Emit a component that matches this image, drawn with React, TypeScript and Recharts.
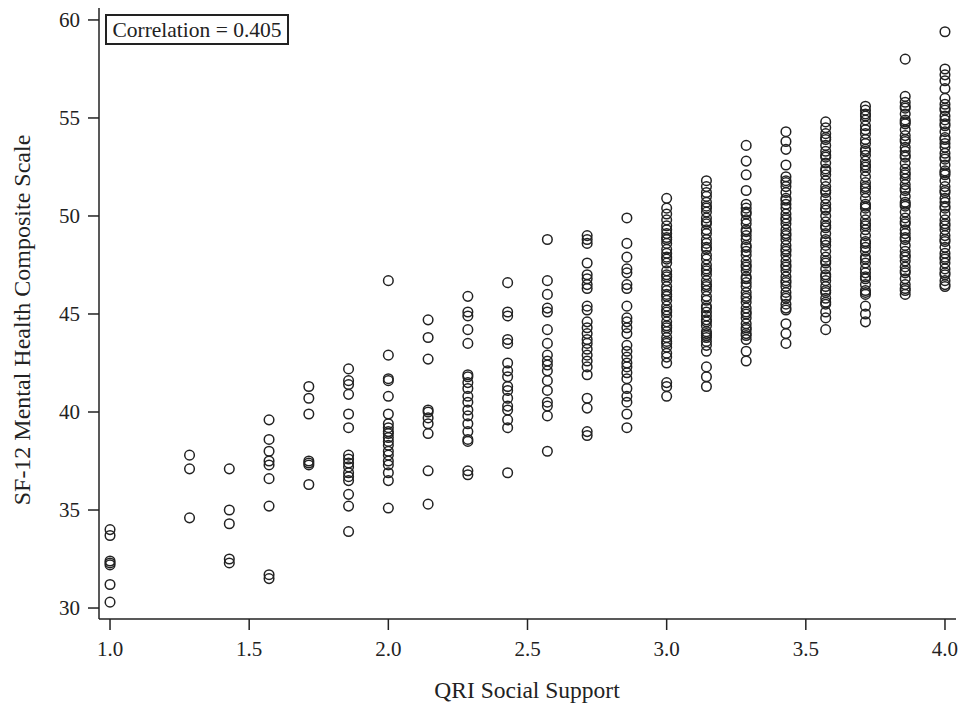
import React from "react";
import { ScatterChart, Scatter, XAxis, YAxis } from "recharts";

const xLevels = [1.0, 1.2857, 1.4286, 1.5714, 1.7143, 1.8571, 2.0, 2.1429, 2.2857, 2.4286, 2.5714, 2.7143, 2.8571, 3.0, 3.1429, 3.2857, 3.4286, 3.5714, 3.7143, 3.8571, 4.0];

const c100 = [34.0, 33.7, 32.4, 32.3, 32.2, 31.2, 30.3];
const c129 = [37.8, 37.1, 34.6];
const c143 = [37.1, 35.0, 34.3, 32.5, 32.3];
const c157 = [39.6, 38.6, 38.0, 37.5, 37.3, 36.6, 35.2, 31.7, 31.5];
const c171 = [41.3, 40.7, 39.9, 37.5, 37.4, 37.3, 36.3];
const c186 = [42.2, 41.6, 41.4, 40.9, 39.9, 39.2, 37.8, 37.6, 37.4, 37.2, 36.9, 36.7, 36.5, 35.8, 35.2, 33.9];
const c200 = [46.7, 42.9, 41.7, 41.6, 40.8, 39.9, 39.4, 39.2, 39.0, 38.9, 38.7, 38.5, 38.3, 38.0, 37.8, 37.5, 37.3, 36.9, 36.5, 35.1];
const c214 = [44.7, 43.8, 42.7, 40.1, 40.0, 39.7, 39.4, 38.9, 37.0, 35.3];
const c229 = [45.9, 45.1, 44.9, 44.2, 43.5, 41.9, 41.8, 41.5, 41.2, 40.8, 40.5, 40.1, 39.8, 39.4, 39.0, 38.6, 38.5, 37.0, 36.8];
const c243 = [46.6, 45.1, 44.9, 43.7, 43.5, 42.5, 42.1, 41.8, 41.3, 41.1, 40.7, 40.3, 40.1, 39.6, 39.2, 36.9];
const c257 = [48.8, 46.7, 46.0, 45.3, 45.1, 44.2, 43.5, 42.9, 42.6, 42.4, 42.1, 41.6, 41.1, 40.5, 40.3, 39.8, 38.0];
const c271 = [49.0, 48.8, 48.6, 47.6, 47.0, 46.8, 46.5, 46.3, 45.4, 45.2, 44.6, 44.3, 44.0, 43.7, 43.5, 43.2, 42.9, 42.6, 42.3, 41.9, 40.7, 40.2, 39.0, 38.8];
const c286 = [49.9, 48.6, 47.9, 47.3, 47.1, 46.5, 46.3, 45.4, 44.8, 44.6, 44.3, 44.0, 43.4, 43.1, 42.8, 42.5, 42.3, 42.0, 41.7, 41.2, 40.8, 40.5, 39.9, 39.2];
const c300 = [50.9, 50.4, 50.1, 49.8, 49.5, 49.3, 49.1, 48.9, 48.8, 48.6, 48.3, 48.1, 47.9, 47.8, 47.6, 47.2, 47.0, 46.9, 46.7, 46.4, 46.2, 46.0, 45.9, 45.7, 45.4, 45.2, 45.1, 44.9, 44.6, 44.4, 44.3, 44.1, 43.8, 43.6, 43.5, 43.3, 43.0, 42.8, 42.5, 41.5, 41.3, 40.8];
const c314 = [51.8, 51.5, 51.2, 51.0, 50.7, 50.5, 50.4, 50.2, 49.9, 49.7, 49.6, 49.3, 49.1, 48.8, 48.6, 48.4, 48.3, 48.0, 47.8, 47.5, 47.3, 47.2, 47.0, 46.7, 46.5, 46.4, 46.2, 45.9, 45.7, 45.4, 45.3, 45.1, 44.9, 44.7, 44.6, 44.4, 44.1, 44.0, 43.9, 43.8, 43.6, 43.4, 43.1, 42.3, 41.8, 41.3];
const c329 = [53.6, 52.8, 52.1, 51.3, 50.6, 50.4, 50.2, 50.1, 49.8, 49.6, 49.3, 49.2, 49.0, 48.8, 48.5, 48.4, 48.2, 48.0, 47.7, 47.5, 47.4, 47.2, 46.9, 46.8, 46.6, 46.4, 46.1, 45.9, 45.8, 45.6, 45.3, 45.1, 45.0, 44.8, 44.5, 44.3, 44.2, 44.0, 43.9, 43.7, 43.1, 42.6];
const c343 = [54.3, 53.8, 53.4, 52.6, 52.0, 51.8, 51.7, 51.5, 51.2, 50.9, 50.8, 50.6, 50.4, 50.1, 49.9, 49.8, 49.6, 49.3, 49.1, 49.0, 48.8, 48.5, 48.3, 48.2, 48.0, 47.7, 47.5, 47.4, 47.2, 46.9, 46.7, 46.6, 46.4, 46.1, 45.9, 45.8, 45.5, 45.3, 45.2, 44.5, 44.0, 43.5];
const c357 = [54.8, 54.5, 54.2, 54.0, 53.9, 53.6, 53.3, 53.1, 53.0, 52.7, 52.4, 52.3, 52.1, 51.8, 51.5, 51.3, 51.2, 50.9, 50.6, 50.4, 50.3, 50.0, 49.7, 49.5, 49.4, 49.1, 48.8, 48.7, 48.5, 48.2, 47.9, 47.7, 47.6, 47.3, 47.0, 46.9, 46.7, 46.4, 46.2, 46.1, 45.8, 45.6, 45.5, 45.1, 44.8, 44.2];
const c371 = [55.6, 55.4, 55.2, 55.1, 54.9, 54.6, 54.4, 54.2, 53.9, 53.7, 53.4, 53.3, 53.1, 52.8, 52.6, 52.5, 52.3, 52.0, 51.7, 51.5, 51.4, 51.2, 50.9, 50.6, 50.5, 50.4, 50.1, 49.8, 49.6, 49.5, 49.3, 49.0, 48.7, 48.6, 48.4, 48.2, 47.9, 47.8, 47.6, 47.3, 47.1, 46.9, 46.8, 46.5, 46.2, 46.1, 46.0, 45.4, 45.0, 44.6];
const c386 = [58.0, 56.1, 55.8, 55.6, 55.5, 55.2, 54.9, 54.8, 54.7, 54.4, 54.1, 53.9, 53.8, 53.5, 53.3, 53.1, 53.0, 52.7, 52.4, 52.2, 52.1, 51.9, 51.6, 51.4, 51.3, 51.0, 50.7, 50.6, 50.5, 50.2, 49.9, 49.7, 49.6, 49.3, 49.1, 48.9, 48.8, 48.5, 48.2, 48.0, 47.9, 47.7, 47.4, 47.2, 47.1, 46.8, 46.5, 46.3, 46.2, 46.0];
const c400 = [59.4, 57.5, 57.2, 56.9, 56.5, 56.0, 55.7, 55.5, 55.4, 55.1, 54.9, 54.7, 54.6, 54.3, 54.0, 53.9, 53.7, 53.5, 53.2, 53.0, 52.9, 52.6, 52.3, 52.2, 52.1, 51.8, 51.5, 51.3, 51.2, 50.9, 50.7, 50.5, 50.4, 50.1, 49.8, 49.6, 49.5, 49.3, 49.0, 48.8, 48.7, 48.4, 48.1, 47.9, 47.8, 47.6, 47.3, 47.1, 47.0, 46.7, 46.5, 46.4];

const columns = [c100, c129, c143, c157, c171, c186, c200, c214, c229, c243, c257, c271, c286, c300, c314, c329, c343, c357, c371, c386, c400];

const xTicks = [1.0, 1.5, 2.0, 2.5, 3.0, 3.5, 4.0];
const yTicks = [30, 35, 40, 45, 50, 55, 60];

const xTitle = "QRI Social Support";
const yTitle = "SF-12 Mental Health Composite Scale";
const corrLabel = "Correlation = 0.405";

const points = columns.flatMap((col, i) => col.map((v) => ({ x: xLevels[i], y: v })));

const FONT = "'Liberation Serif', 'Times New Roman', serif";
const INK = "#222";

const Ring = (props: any) => {
  const { cx, cy } = props;
  if (cx == null || cy == null) return null;
  return <circle cx={cx} cy={cy} r={4.8} fill="none" stroke={INK} strokeWidth={1.5} />;
};

const X_DOMAIN: [number, number] = [0.9604, 4.0396];
const Y_DOMAIN: [number, number] = [29.44, 60.61];

export default function App() {
  const tickStyle = { fontFamily: FONT, fontSize: 21, fill: INK };
  return (
    <div style={{ position: "absolute", left: 0, top: 0, width: 964, height: 706, background: "#fff" }}>
      <ScatterChart width={964} height={706} margin={{ top: 8, right: 8, bottom: 0, left: 0 }}>
        <XAxis
          xAxisId="b"
          type="number"
          dataKey="x"
          domain={X_DOMAIN}
          ticks={xTicks}
          allowDataOverflow
          tickFormatter={(v: number) => v.toFixed(1)}
          height={87}
          tickSize={11}
          tickMargin={11}
          tick={tickStyle}
          stroke={INK}
          strokeWidth={1.5}
          interval={0}
        />
        <XAxis xAxisId="t" orientation="top" type="number" domain={X_DOMAIN} allowDataOverflow height={0} tick={false} tickLine={false} stroke={INK} strokeWidth={1.5} />
        <YAxis
          yAxisId="l"
          type="number"
          dataKey="y"
          domain={Y_DOMAIN}
          ticks={yTicks}
          allowDataOverflow
          width={99}
          tickSize={11}
          tickMargin={8}
          tick={tickStyle}
          stroke={INK}
          strokeWidth={1.5}
          interval={0}
        />
        <YAxis yAxisId="r" orientation="right" type="number" domain={Y_DOMAIN} allowDataOverflow width={0} tick={false} tickLine={false} stroke={INK} strokeWidth={1.5} />
        <Scatter xAxisId="b" yAxisId="l" data={points} shape={Ring} isAnimationActive={false} />
      </ScatterChart>
      <svg width={964} height={706} style={{ position: "absolute", left: 0, top: 0, pointerEvents: "none" }}>
        <text x={527} y={698} textAnchor="middle" fontFamily={FONT} fontSize={23.5} fill={INK}>{xTitle}</text>
        <text x={30} y={320} textAnchor="middle" fontFamily={FONT} fontSize={24} fill={INK} transform="rotate(-90, 30, 320)">{yTitle}</text>
        <rect x={106} y={15} width={182} height={29} fill="#fff" stroke={INK} strokeWidth={2} />
        <text x={197} y={37} textAnchor="middle" fontFamily={FONT} fontSize={21.5} fill={INK}>{corrLabel}</text>
      </svg>
    </div>
  );
}
